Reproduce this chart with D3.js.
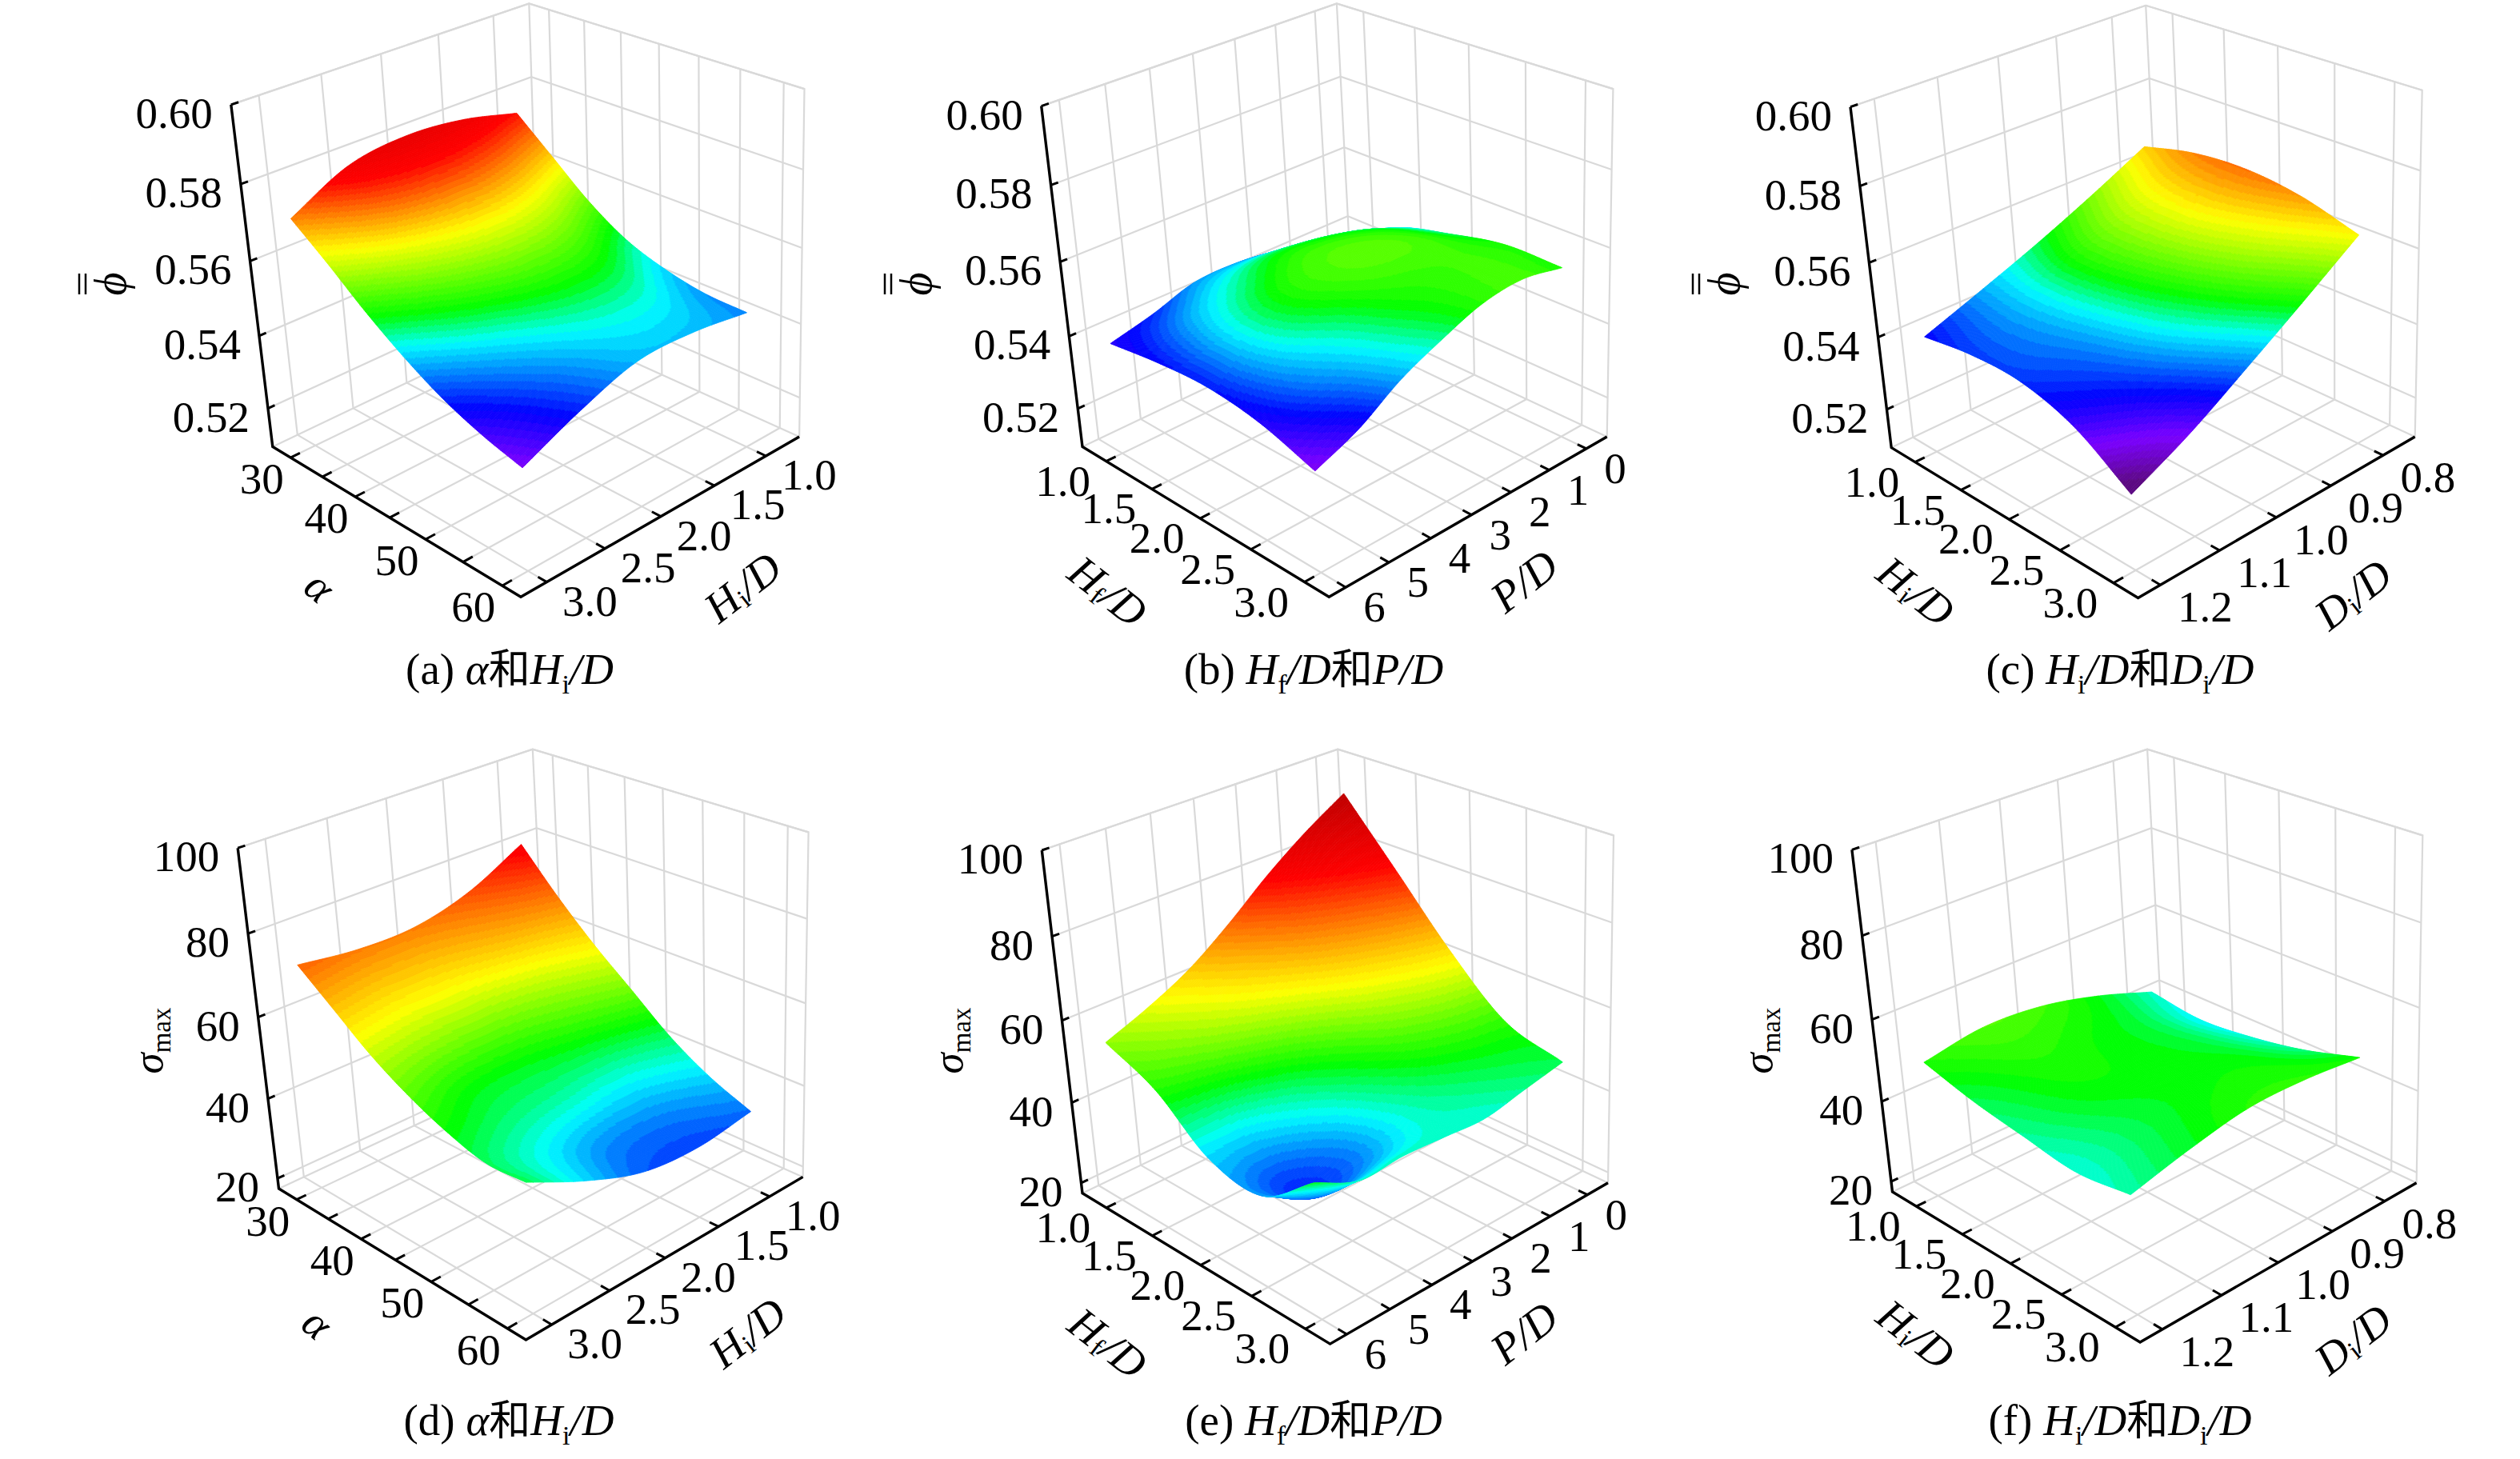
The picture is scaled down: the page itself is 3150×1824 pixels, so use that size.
<!DOCTYPE html>
<html>
<head>
<meta charset="utf-8">
<script src="https://cdn.jsdelivr.net/npm/d3@7"></script>
<style>
body { margin: 0; background: #fff; }
text { font-family: "Liberation Serif", "Noto Sans CJK SC", serif; fill: #000; }
.cjk { font-family: "Noto Sans CJK SC", serif; }
</style>
</head>
<body>
<script>
// tick values
var alphaTicks = [30, 35, 40, 45, 50, 55, 60];
var heightTicks = [1.0, 1.5, 2.0, 2.5, 3.0];
var pitchTicks = [0, 1, 2, 3, 4, 5, 6];
var diamTicks = [0.8, 0.9, 1.0, 1.1, 1.2];
var phiTicks = [0.52, 0.54, 0.56, 0.58, 0.60];
var sigmaTicks = [20, 40, 60, 80, 100];

// surfaces: one row per tick of the left floor axis, one column per tick of the right floor axis
var phiAlphaHi = [
    [0.5755, 0.5792, 0.5805, 0.5784, 0.5707],
    [0.5670, 0.5716, 0.5733, 0.5710, 0.5632],
    [0.5585, 0.5640, 0.5655, 0.5625, 0.5552],
    [0.5520, 0.5575, 0.5585, 0.5550, 0.5482],
    [0.5482, 0.5528, 0.5528, 0.5488, 0.5424],
    [0.5460, 0.5495, 0.5490, 0.5445, 0.5382],
    [0.5455, 0.5473, 0.5470, 0.5419, 0.5352]
];
var phiHfPitch = [
    [0.5396, 0.5424, 0.5450, 0.5464, 0.5460, 0.5424, 0.5396],
    [0.5480, 0.5520, 0.5542, 0.5545, 0.5515, 0.5475, 0.5412],
    [0.5520, 0.5562, 0.5578, 0.5572, 0.5548, 0.5495, 0.5417],
    [0.5550, 0.5565, 0.5560, 0.5545, 0.5505, 0.5460, 0.5396],
    [0.5549, 0.5568, 0.5555, 0.5514, 0.5464, 0.5395, 0.5348]
];
var phiHiDi = [
    [0.5671, 0.5597, 0.5529, 0.5468, 0.5410],
    [0.5704, 0.5635, 0.5560, 0.5475, 0.5428],
    [0.5713, 0.5640, 0.5550, 0.5462, 0.5425],
    [0.5695, 0.5610, 0.5515, 0.5430, 0.5380],
    [0.5651, 0.5549, 0.5452, 0.5360, 0.5285]
];
var sigmaAlphaHi = [
    [80.8, 74.0, 70.5, 70.4, 72.2],
    [70.8, 67.0, 64.0, 63.5, 65.3],
    [61.9, 58.0, 56.0, 56.5, 58.5],
    [54.1, 51.0, 49.0, 49.5, 53.2],
    [46.3, 43.5, 44.5, 46.0, 49.2],
    [40.4, 37.5, 38.0, 42.0, 46.6],
    [36.2, 34.4, 35.5, 40.4, 47.0]
];
var sigmaHfPitch = [
    [93, 87, 80, 72, 65, 60, 56],
    [78, 73, 68, 62, 57, 53, 50.4],
    [63, 60, 56, 50, 44, 40, 40.5],
    [51, 50, 47.5, 43, 36.5, 33.5, 38.5],
    [47, 45, 43, 43.5, 44, 43.5, 48]
];
var sigmaHiDi = [
    [43.5, 48.4, 51.8, 52.7, 50.4],
    [41.8, 47.0, 49.5, 50.5, 47.1],
    [43.0, 47.5, 49.0, 49.0, 44.9],
    [45.5, 49.0, 49.0, 47.0, 43.0],
    [49.5, 50.7, 50.6, 48.0, 44.5]
];

var width = 3150, height = 1824;
var cellCount = 170, bandCount = 72;

var phiStops = [0.5295, 0.5355, 0.541, 0.5495, 0.554, 0.565, 0.570, 0.576, 0.592];
var sigmaStops = [18, 23, 32, 42, 49, 61, 69, 79, 96];
var ramp = ["#5a0a78", "#7a00ff", "#0000ff", "#00ffff", "#00ff00", "#ffff00", "#ff9000", "#ff0000", "#b00000"];

// value range of the box edge and its perspective ratio
var alphaAxis = { dom: [27.09, 62.3], r: 1.16, ticks: alphaTicks, labels: function(v) { return v % 10 == 0 ? v : ""; }, off: [-36, 27] };
var hfLeft = { dom: [0.73, 3.22], r: 1.14, ticks: heightTicks, labels: function(v) { return v.toFixed(1); }, off: [-54, 25] };
var hiRight = { dom: [0.665, 3.216], r: 1.11, ticks: heightTicks, labels: function(v) { return v.toFixed(1); }, off: [54, 24] };
var pitchRight = { dom: [-0.566, 6.377], r: 1.11, ticks: pitchTicks, labels: function(v) { return v; }, off: [36, 25] };
var diamRight = { dom: [0.737, 1.2365], r: 1.11, ticks: diamTicks, labels: function(v) { return v.toFixed(1); }, off: [56, 28] };
var phiAxis = { dom: [0.5092, 0.60], r: 1.07, ticks: phiTicks, labels: function(v) { return v.toFixed(2); }, stops: phiStops };
var sigmaAxis = { dom: [17.4, 100], r: 1.05, ticks: sigmaTicks, labels: function(v) { return v; }, stops: sigmaStops };

var panels = [
    { grid: phiAlphaHi, left: alphaAxis, right: hiRight, z: phiAxis,
      box: { Ab: [340.8, 558.5], At: [288.8, 130.9], Dt: [661.3, 4.5], Db: [674.1, 399.4], Cb: [999.1, 546], Ct: [1005.5, 111.1], Bb: [651, 746.3], Bt: [624, 265] },
      leftTitle: ["α"], leftPos: [400, 733, 40], rightTitle: ["H", "i", "/D"], rightPos: [928, 734, -38], zPos: [143, 355],
      caption: [["(a) ", 0], ["α", 1], ["和", 2], ["H", 1], ["i", 3], ["/D", 1]], capPos: [637, 855] },
    { grid: phiHfPitch, left: hfLeft, right: pitchRight, z: phiAxis,
      box: { Ab: [1353, 558.5], At: [1301.7, 132.6], Dt: [1670.9, 4.5], Db: [1691.4, 397.7], Cb: [2008.7, 546], Ct: [2016.4, 111.1], Bb: [1661.3, 746.3], Bt: [1633.7, 265.1] },
      leftTitle: ["H", "f", "/D"], leftPos: [1385, 739, 38], rightTitle: ["P", "", "/D"], rightPos: [1905, 726, -38], zPos: [1150, 355],
      caption: [["(b) ", 0], ["H", 1], ["f", 3], ["/D", 1], ["和", 2], ["P/D", 1]], capPos: [1642, 855] },
    { grid: phiHiDi, left: hfLeft, right: diamRight, z: phiAxis,
      box: { Ab: [2364.2, 559.6], At: [2313, 133.7], Dt: [2682.2, 6.8], Db: [2701.4, 399.4], Cb: [3018.7, 546], Ct: [3027.7, 112.8], Bb: [2672.6, 747.5], Bt: [2645, 268] },
      leftTitle: ["H", "i", "/D"], leftPos: [2395, 739, 38], rightTitle: ["D", "i", "/D"], rightPos: [2941, 743, -38], zPos: [2160, 355],
      caption: [["(c) ", 0], ["H", 1], ["i", 3], ["/D", 1], ["和", 2], ["D", 1], ["i", 3], ["/D", 1]], capPos: [2650, 855] },
    { grid: sigmaAlphaHi, left: alphaAxis, right: hiRight, z: sigmaAxis,
      box: { Ab: [348.5, 1486], At: [297.2, 1060.2], Dt: [665.8, 936.6], Db: [685, 1329.2], Cb: [1003.6, 1471.4], Ct: [1010.6, 1040.4], Bb: [657.4, 1675], Bt: [630.5, 1193.8] },
      leftTitle: ["α"], leftPos: [397, 1654, 40], rightTitle: ["H", "i", "/D"], rightPos: [934, 1666, -38], zPos: [191, 1301],
      caption: [["(d) ", 0], ["α", 1], ["和", 2], ["H", 1], ["i", 3], ["/D", 1]], capPos: [636, 1794] },
    { grid: sigmaHfPitch, left: hfLeft, right: pitchRight, z: sigmaAxis,
      box: { Ab: [1353, 1491.7], At: [1302.3, 1063], Dt: [1672.2, 936.6], Db: [1691.4, 1329.2], Cb: [2010, 1478.7], Ct: [2017, 1044.4], Bb: [1662.6, 1680.1], Bt: [1635, 1196.7] },
      leftTitle: ["H", "f", "/D"], leftPos: [1385, 1679, 38], rightTitle: ["P", "", "/D"], rightPos: [1905, 1666, -38], zPos: [1191, 1301],
      caption: [["(e) ", 0], ["H", 1], ["f", 3], ["/D", 1], ["和", 2], ["P/D", 1]], capPos: [1642, 1794] },
    { grid: sigmaHiDi, left: hfLeft, right: diamRight, z: sigmaAxis,
      box: { Ab: [2365.5, 1490], At: [2314.9, 1062.4], Dt: [2684.1, 936.6], Db: [2704.6, 1329.2], Cb: [3020.6, 1478.7], Ct: [3028.3, 1044.4], Bb: [2675.1, 1677.9], Bt: [2646.9, 1196.7] },
      leftTitle: ["H", "i", "/D"], leftPos: [2395, 1668, 38], rightTitle: ["D", "i", "/D"], rightPos: [2941, 1674, -38], zPos: [2203, 1301],
      caption: [["(f) ", 0], ["H", 1], ["i", 3], ["/D", 1], ["和", 2], ["D", 1], ["i", 3], ["/D", 1]], capPos: [2650, 1794] }
];

var svg = d3.select("body").append("svg")
    .attr("width", width)
    .attr("height", height);

function lerp(a, b, t) { return [a[0] + (b[0] - a[0]) * t, a[1] + (b[1] - a[1]) * t]; }

// value -> 0..1 along a box edge, with the foreshortening of the picture
function edgeScale(axis) {
    var lin = d3.scaleLinear().domain(axis.dom).range([0, 1]);
    return function(v) {
        var t = lin(v);
        return t / (t + (1 - t) * axis.r);
    };
}

function catmull(a, b, c, d, t) {
    return 0.5 * (2 * b + (c - a) * t + (2 * a - 5 * b + 4 * c - d) * t * t + (3 * b - a - 3 * c + d) * t * t * t);
}

function spline(vals, x) {
    var n = vals.length;
    var i = Math.min(Math.floor(x), n - 2);
    var a = i > 0 ? vals[i - 1] : 2 * vals[0] - vals[1];
    var d = i < n - 2 ? vals[i + 2] : 2 * vals[n - 1] - vals[n - 2];
    return catmull(a, vals[i], vals[i + 1], d, x - i);
}

function drawPanel(panel) {
    var g = svg.append("g");
    var b = panel.box;
    var sx = edgeScale(panel.left), sy = edgeScale(panel.right), sz = edgeScale(panel.z);

    // trilinear map of the box corners. x: towards front along left axis, y: towards front along right axis
    function proj(x, y, z) {
        var bot = lerp(lerp(b.Db, b.Cb, x), lerp(b.Ab, b.Bb, x), y);
        var top = lerp(lerp(b.Dt, b.Ct, x), lerp(b.At, b.Bt, x), y);
        return lerp(bot, top, z);
    }
    var line = d3.line();

    // walls and floor
    var gridLines = [];
    panel.z.ticks.forEach(function(v) {
        var z = sz(v);
        gridLines.push([proj(0, 1, z), proj(0, 0, z), proj(1, 0, z)]);
    });
    panel.left.ticks.forEach(function(v) {
        var x = sx(v);
        gridLines.push([proj(x, 1, 0), proj(x, 0, 0), proj(x, 0, 1)]);
    });
    panel.right.ticks.forEach(function(v) {
        var y = sy(v);
        gridLines.push([proj(1, y, 0), proj(0, y, 0), proj(0, y, 1)]);
    });
    gridLines.push([proj(0, 1, 0), proj(0, 0, 0), proj(1, 0, 0)]);
    gridLines.push([proj(0, 1, 1), proj(0, 0, 1), proj(1, 0, 1), proj(1, 0, 0)]);
    gridLines.push([proj(0, 0, 0), proj(0, 0, 1)]);
    g.append("g").selectAll("path").data(gridLines).join("path")
        .attr("d", function(d) { return line(d); })
        .attr("fill", "none")
        .attr("stroke", "#d9d9d9")
        .attr("stroke-width", 2.2);

    // surface, painted back to front, merged into runs of one colour
    var stops = panel.z.stops;
    var colorRamp = d3.scaleLinear().domain(stops).range(ramp).clamp(true);
    var color = d3.scaleQuantize().domain([stops[0], stops[stops.length - 1]])
        .range(d3.range(bandCount).map(function(i) {
            return colorRamp(stops[0] + (stops[stops.length - 1] - stops[0]) * (i + 0.5) / bandCount);
        }));
    var rows = panel.left.ticks, cols = panel.right.ticks;
    var nr = rows.length, nc = cols.length;
    var xv = d3.scaleLinear().domain([0, cellCount]).range([rows[0], rows[nr - 1]]);
    var yv = d3.scaleLinear().domain([0, cellCount]).range([cols[0], cols[nc - 1]]);

    function nodeRow(i) {
        var x = i / cellCount * (nr - 1);
        var column = d3.range(nc).map(function(c) {
            return spline(panel.grid.map(function(r) { return r[c]; }), x);
        });
        return d3.range(cellCount + 1).map(function(j) {
            var z = spline(column, j / cellCount * (nc - 1));
            return { z: z, p: proj(sx(xv(i)), sy(yv(j)), sz(z)) };
        });
    }

    var runs = [];
    var prev = nodeRow(0);
    for (var i = 0; i < cellCount; i++) {
        var next = nodeRow(i + 1);
        var start = 0, cur = null;
        for (var j = 0; j <= cellCount; j++) {
            var c = null;
            if (j < cellCount) {
                c = color((prev[j].z + prev[j + 1].z + next[j].z + next[j + 1].z) / 4);
            }
            if (c !== cur) {
                if (cur !== null) {
                    var pts = [];
                    for (var k = start; k <= j; k++) pts.push(prev[k].p);
                    for (k = j; k >= start; k--) pts.push(next[k].p);
                    runs.push({ pts: pts, color: cur });
                }
                start = j;
                cur = c;
            }
        }
        prev = next;
    }
    g.append("g").selectAll("path").data(runs).join("path")
        .attr("d", function(d) { return line(d.pts) + "Z"; })
        .attr("fill", function(d) { return d.color; })
        .attr("stroke", function(d) { return d.color; })
        .attr("stroke-width", 0.9);

    // axes
    g.append("path").attr("d", line([proj(0, 1, 1), proj(0, 1, 0), proj(1, 1, 0), proj(1, 0, 0)]))
        .attr("fill", "none").attr("stroke", "#000").attr("stroke-width", 3.4);

    var ticks = [];
    panel.z.ticks.forEach(function(v) { ticks.push([proj(0, 1, sz(v)), proj(0, 0.975, sz(v))]); });
    panel.left.ticks.forEach(function(v) { ticks.push([proj(sx(v), 1, 0), proj(sx(v), 0.965, 0)]); });
    panel.right.ticks.forEach(function(v) { ticks.push([proj(1, sy(v), 0), proj(0.965, sy(v), 0)]); });
    g.append("g").selectAll("path").data(ticks).join("path")
        .attr("d", function(d) { return line(d); })
        .attr("stroke", "#000").attr("stroke-width", 3);

    // tick labels
    g.append("g").selectAll("text").data(panel.z.ticks).join("text")
        .attr("x", function(v) { return proj(0, 1, sz(v))[0] - 23; })
        .attr("y", function(v) { return proj(0, 1, sz(v))[1] + 29; })
        .attr("text-anchor", "end")
        .attr("font-size", 55)
        .text(panel.z.labels);
    g.append("g").selectAll("text")
        .data(panel.left.ticks.filter(function(v) { return panel.left.labels(v) !== ""; })).join("text")
        .attr("x", function(v) { return proj(sx(v), 1, 0)[0] + panel.left.off[0]; })
        .attr("y", function(v) { return proj(sx(v), 1, 0)[1] + panel.left.off[1] + 18; })
        .attr("text-anchor", "middle")
        .attr("font-size", 55)
        .text(panel.left.labels);
    g.append("g").selectAll("text").data(panel.right.ticks).join("text")
        .attr("x", function(v) { return proj(1, sy(v), 0)[0] + panel.right.off[0]; })
        .attr("y", function(v) { return proj(1, sy(v), 0)[1] + panel.right.off[1] + 18; })
        .attr("text-anchor", "middle")
        .attr("font-size", 55)
        .text(panel.right.labels);

    // floor axis titles
    function axisTitle(parts, pos) {
        var t = g.append("text")
            .attr("transform", "translate(" + pos[0] + "," + pos[1] + ") rotate(" + pos[2] + ")")
            .attr("text-anchor", "middle")
            .attr("dominant-baseline", "central")
            .attr("font-size", 55)
            .attr("font-style", "italic");
        t.append("tspan").text(parts[0]);
        if (parts.length > 1) {
            if (parts[1]) {
                t.append("tspan").attr("dy", 12).attr("font-size", 34).attr("font-style", "normal").text(parts[1]);
                t.append("tspan").attr("dy", -12).text(parts[2]);
            } else {
                t.append("tspan").text(parts[2]);
            }
        }
    }
    axisTitle(panel.leftTitle, panel.leftPos);
    axisTitle(panel.rightTitle, panel.rightPos);

    // z title
    var zt = g.append("g").attr("transform", "translate(" + panel.zPos[0] + "," + panel.zPos[1] + ") rotate(-90)");
    if (panel.z === phiAxis) {
        zt.append("text").attr("y", 14).attr("text-anchor", "middle")
            .attr("font-size", 56).attr("font-style", "italic").text("ϕ");
        zt.selectAll("line").data([-44, -36]).join("line")
            .attr("x1", -13).attr("x2", 13)
            .attr("y1", function(d) { return d; }).attr("y2", function(d) { return d; })
            .attr("stroke", "#000").attr("stroke-width", 2.5);
    } else {
        var st = zt.append("text").attr("text-anchor", "middle").attr("y", 12).attr("font-size", 53);
        st.append("tspan").attr("font-style", "italic").text("σ");
        st.append("tspan").attr("dy", 10).attr("font-size", 33).text("max");
    }

    // caption
    var cap = g.append("text")
        .attr("x", panel.capPos[0]).attr("y", panel.capPos[1])
        .attr("text-anchor", "middle")
        .attr("font-size", 55);
    var low = false;
    panel.caption.forEach(function(part) {
        var ts = cap.append("tspan").text(part[0]);
        if (part[1] == 1) ts.attr("font-style", "italic");
        if (part[1] == 2) ts.attr("class", "cjk").attr("font-size", 52);
        if (part[1] == 3) { ts.attr("font-size", 34).attr("dy", 12); low = true; }
        else if (low) { ts.attr("dy", -12); low = false; }
    });
}

panels.forEach(drawPanel);
</script>
</body>
</html>
